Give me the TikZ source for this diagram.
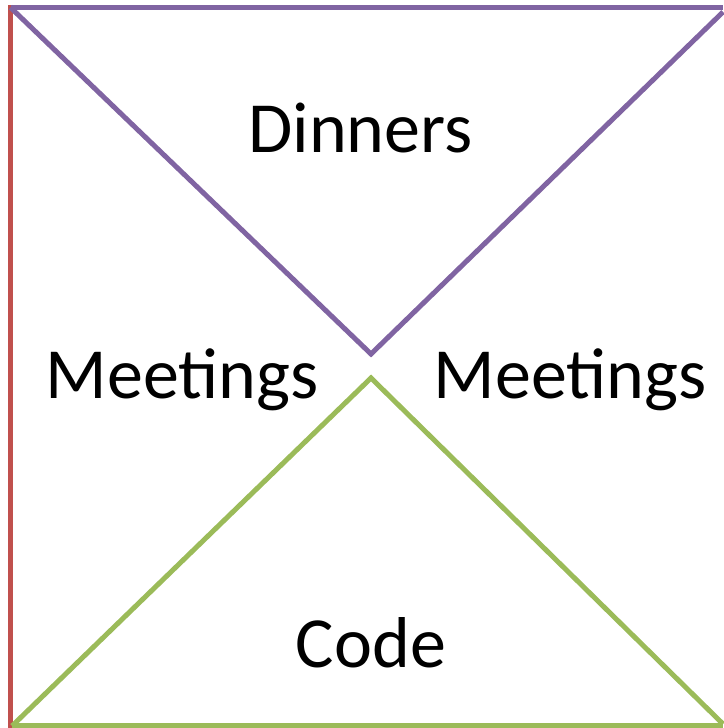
\documentclass[tikz,border=0pt]{standalone}
\usepackage{fontspec}
\setmainfont{Carlito}
\usetikzlibrary{positioning}
\definecolor{offred}{HTML}{C0504D}
\definecolor{offpurple}{HTML}{8064A2}
\definecolor{offgreen}{HTML}{9BBB59}

\begin{document}
\begin{tikzpicture}[x=1pt, y=1pt, line width=5pt,
                    every node/.style={font=\fontsize{72}{84}\selectfont, inner sep=0pt, anchor=base}]
\useasboundingbox (0,0) rectangle (723,728);
\coordinate (tl) at (10.5,720.5);
\coordinate (tr) at (723,720.5);
\coordinate (ptip) at (371,374);
\coordinate (ptr) at (723,716);
\coordinate (gtip) at (371,350);
\coordinate (bl) at (12,2);
\coordinate (br) at (723,2);
\coordinate (gbr) at (723,4);
\coordinate (rtop) at (10.5,723);
\coordinate (rbot) at (10.5,0);
\draw[offred] (rtop) -- (rbot);
\draw[offpurple] (tl) -- (tr);
\draw[offpurple] (tl) -- (ptip) -- (ptr);
\draw[offgreen] (bl) -- (br);
\draw[offgreen] (bl) -- (gtip) -- (gbr);
\node (dinners) at (360.5,575) {Dinners};
\node (meetl) at (182,329) {Meetings};
\node (meetr) at (570,329) {Meetings};
\node (code) at (371,60) {Code};
\end{tikzpicture}
\end{document}
